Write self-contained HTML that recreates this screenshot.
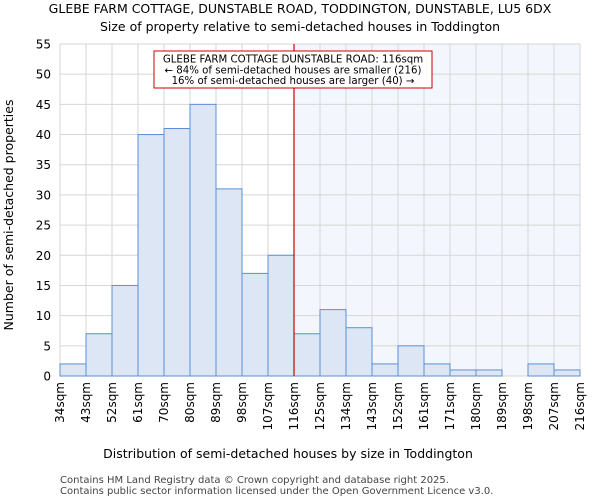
<!DOCTYPE html>
<html><head><meta charset="utf-8"><style>
body{margin:0;background:#fff;}
svg{display:block;font-family:"DejaVu Sans","Liberation Sans",sans-serif;}
</style></head><body>
<svg id="chart" width="600" height="500" viewBox="0 0 600 500">
<text x="300" y="13" text-anchor="middle" font-size="12.5" fill="#000">GLEBE FARM COTTAGE, DUNSTABLE ROAD, TODDINGTON, DUNSTABLE, LU5 6DX</text>
<text x="300" y="31" text-anchor="middle" font-size="12.5" fill="#000">Size of property relative to semi-detached houses in Toddington</text>
<g id="plot"></g>
<text x="288" y="458" text-anchor="middle" font-size="12.5">Distribution of semi-detached houses by size in Toddington</text>
<text transform="translate(13,215) rotate(-90)" text-anchor="middle" font-size="12.5">Number of semi-detached properties</text>
<text x="60" y="483" font-size="10" fill="#444">Contains HM Land Registry data © Crown copyright and database right 2025.</text>
<text x="60" y="494" font-size="10" fill="#444">Contains public sector information licensed under the Open Government Licence v3.0.</text>
</svg>
<script>
const binLabels=["34sqm","43sqm","52sqm","61sqm","70sqm","80sqm","89sqm","98sqm","107sqm","116sqm","125sqm","134sqm","143sqm","152sqm","161sqm","171sqm","180sqm","189sqm","198sqm","207sqm","216sqm"];
const counts=[2,7,15,40,41,45,31,17,20,7,11,8,2,5,2,1,1,0,2,1];
const yTicks=[0,5,10,15,20,25,30,35,40,45,50,55];
const markerIndex=9;
const NS="http://www.w3.org/2000/svg";
const L=60,R=580,T=44,B=376,yMax=55;
const n=counts.length,bw=(R-L)/n;
const xs=i=>L+i*bw;
const ys=v=>B-(v/yMax)*(B-T);
const g=document.getElementById('plot');
function mk(t,a){const e=document.createElementNS(NS,t);for(const k in a)e.setAttribute(k,a[k]);g.appendChild(e);return e;}
let e=mk('rect',{x:xs(markerIndex),y:T,width:R-xs(markerIndex),height:B-T,fill:'#f3f6fd'});


for(let i=0;i<=n;i++){e=mk('line',{x1:xs(i),x2:xs(i),y1:T,y2:B,stroke:'#d6d6d6','stroke-width':1});

}
yTicks.forEach(v=>{e=mk('line',{x1:L,x2:R,y1:ys(v),y2:ys(v),stroke:'#d6d6d6','stroke-width':1});


const t=mk('text',{x:L-9,y:ys(v)+4.5,'text-anchor':'end','font-size':12});t.textContent=v;

});
counts.forEach((c,i)=>{if(c<=0)return;e=mk('rect',{x:xs(i),y:ys(c),width:bw,height:B-ys(c),fill:'#dce6f5',stroke:'#5b8fd6','stroke-width':1});

});
binLabels.forEach((l,i)=>{const x=xs(i)+4,y=B+6;const t=mk('text',{x:x,y:y,'text-anchor':'end','font-size':12,transform:`rotate(-90 ${x} ${y})`});t.textContent=l;

});
e=mk('line',{x1:xs(markerIndex),x2:xs(markerIndex),y1:T,y2:B,stroke:'#cc0000','stroke-width':1.2});


e=mk('rect',{x:154,y:51,width:278,height:37,fill:'#fff',stroke:'#cc0000','stroke-width':1});


["GLEBE FARM COTTAGE DUNSTABLE ROAD: 116sqm","← 84% of semi-detached houses are smaller (216)","16% of semi-detached houses are larger (40) →"].forEach((s,i)=>{const t=mk('text',{x:293,y:62.5+i*10.8,'text-anchor':'middle','font-size':10.2});t.textContent=s;

});
</script>
</body></html>
